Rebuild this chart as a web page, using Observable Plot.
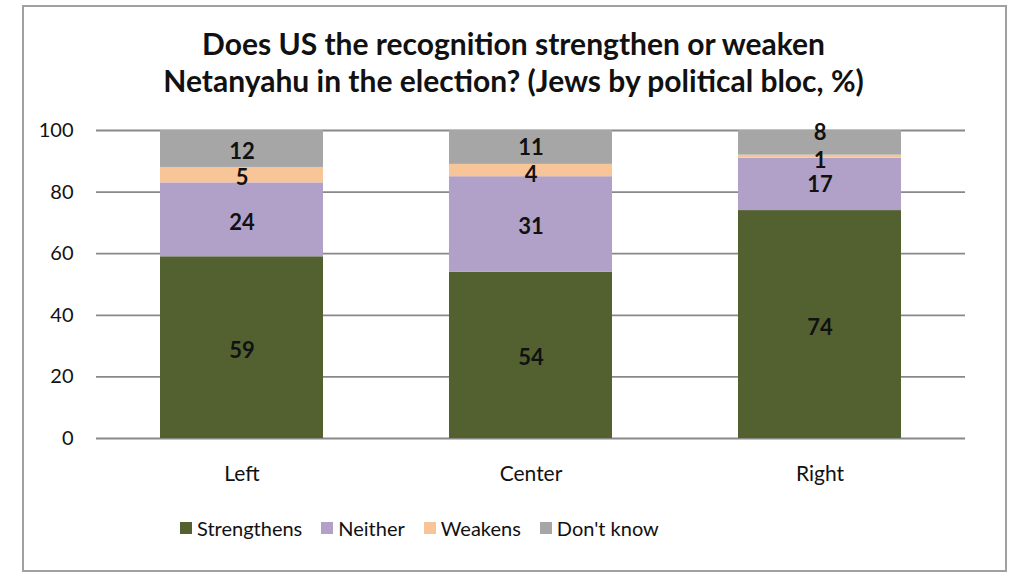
<!DOCTYPE html>
<html>
<head>
<meta charset="utf-8">
<script src="https://cdn.jsdelivr.net/npm/d3@7"></script>
<script src="https://cdn.jsdelivr.net/npm/@observablehq/plot@0.6"></script>
<style>
  html, body { margin: 0; padding: 0; background: #fff; }
  body { width: 1024px; height: 582px; position: relative; overflow: hidden; font-family: Lato, "Open Sans", sans-serif; }
  #frame { position: absolute; left: 22px; top: 5px; width: 981px; height: 563px; border: 2px solid #a0a0a0; box-sizing: content-box; }
  #title { position: absolute; left: 22px; width: 983px; top: 25px; text-align: center; font-weight: bold; font-size: 30px; line-height: 37px; color: #111; }
  #chart { position: absolute; left: 0; top: 110px; }
  #legend { position: absolute; left: 180px; top: 514px; display: flex; align-items: center; font-size: 20px; color: #111; height: 28px; }
  #legend .item { display: flex; align-items: center; margin-right: 19px; }
  #legend .sw { width: 12px; height: 12px; margin-right: 5px; }
</style>
</head>
<body>
<div id="frame"></div>
<div id="title">Does US the recognition strengthen or weaken<br>Netanyahu in the election? (Jews by political bloc, %)</div>
<div id="chart"></div>
<div id="legend"></div>
<script>
const blocs = ["Left", "Center", "Right"];
const answers = ["Strengthens", "Neither", "Weakens", "Don't know"];
const strengthens = [59, 54, 74];
const neither = [24, 31, 17];
const weakens = [5, 4, 1];
const dontKnow = [12, 11, 8];
const yTicks = [0, 20, 40, 60, 80, 100];
const colors = ["#536131", "#b1a1c8", "#f8c598", "#a6a6a6"];

const series = [strengthens, neither, weakens, dontKnow];
const rows = [];
blocs.forEach((b, i) => {
  answers.forEach((a, j) => rows.push({bloc: b, answer: a, value: series[j][i]}));
});

// label nudges (pixels) for crowded segments, as in the reference
const nudges = {
  "Center|Don't know": 1,
  "Center|Weakens": 4,
  "Right|Don't know": -10,
  "Right|Weakens": 4,
  "Right|Neither": 1
};
const defaultNudge = 3;
const nudgeOf = d => nudges[d.bloc + "|" + d.answer] ?? defaultNudge;
const nudgeValues = Array.from(new Set(rows.map(nudgeOf)));

const stackOpts = {x: "bloc", y: "value", z: "answer", order: answers, text: "value"};
const labelStyle = {fontSize: 22, fontWeight: "bold", fill: "#111"};

const chart = Plot.plot({
  width: 1024,
  height: 390,
  marginTop: 20,
  marginBottom: 62,
  marginLeft: 96,
  marginRight: 59,
  style: {fontFamily: "Lato, 'Open Sans', sans-serif", background: "transparent"},
  x: {domain: blocs, paddingInner: 0.436, paddingOuter: 0.22, label: null},
  y: {domain: [0, 100], ticks: yTicks, label: null},
  color: {domain: answers, range: colors},
  marks: [
    Plot.ruleY(yTicks, {stroke: "#888888", strokeWidth: 1.8}),
    Plot.barY(rows, Plot.stackY({x: "bloc", y: "value", z: "answer", order: answers, fill: "answer"})),
    ...nudgeValues.map(n => Plot.text(rows, Plot.filter(d => nudgeOf(d) === n, Plot.stackY({...stackOpts, ...labelStyle, dy: n})))),
    Plot.axisY({ticks: yTicks, tickSize: 0, tickPadding: 23, fontSize: 20, fill: "#111", label: null}),
    Plot.axisX({tickSize: 0, tickPadding: 28, fontSize: 21, fill: "#111", label: null})
  ]
});
document.getElementById("chart").appendChild(chart);

const legend = document.getElementById("legend");
answers.forEach((a, i) => {
  const item = document.createElement("div");
  item.className = "item";
  const sw = document.createElement("div");
  sw.className = "sw";
  sw.style.background = colors[i];
  const t = document.createElement("span");
  t.textContent = a;
  item.appendChild(sw);
  item.appendChild(t);
  legend.appendChild(item);
});
</script>
</body>
</html>
